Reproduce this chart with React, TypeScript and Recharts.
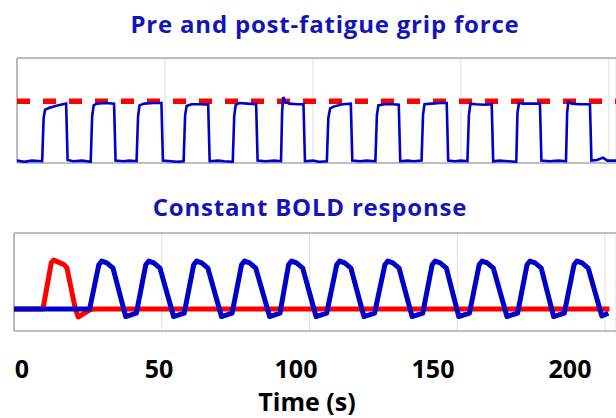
import { LineChart, Line, XAxis, YAxis, CartesianGrid, ReferenceLine } from "recharts";

// grip force trace (normalised to the target force = 1)
const gripTime = [
  0, 2.5, 5, 8.5,
  9.0, 9.5, 11, 13, 15.5, 16.6, 17.1, 19, 22, 24.9,
  25.4, 25.9, 27, 30, 32.8, 33.3, 36, 38, 40.4,
  40.9, 41.4, 43, 46, 48.8, 49.3, 52, 54, 56.3,
  56.8, 57.3, 59, 62, 64.6, 65.1, 68, 70, 72.9,
  73.4, 73.9, 75, 78, 80.8, 81.3, 84, 87, 89.2,
  89.6, 90.0, 90.6, 92, 95, 96.8, 97.3, 100, 102, 104.7,
  105.2, 105.8, 107, 110, 112.8, 113.3, 116, 118, 121.1,
  121.6, 122.1, 124, 127, 129.0, 129.5, 132, 134, 136.7,
  137.2, 137.7, 140, 143, 145.2, 145.7, 148, 150, 152.2,
  152.7, 153.2, 155, 158, 160.4, 160.9, 163, 166, 168.7,
  169.1, 169.6, 171, 174, 176.7, 177.2, 180, 183, 185.5,
  185.9, 186.3, 187.5, 190, 193.6, 194.1, 196, 198, 199.5, 202.4,
];
const gripForce = [
  0.01, -0.01, 0.01, 0.0,
  0.72, 0.86, 0.89, 0.92, 0.95, 0.96, 0.02, 0.0, 0.01, -0.01,
  0.75, 0.93, 0.96, 0.97, 0.96, 0.01, 0.0, 0.01, 0.0,
  0.74, 0.93, 0.96, 0.97, 0.97, 0.01, 0.0, -0.01, 0.0,
  0.76, 0.92, 0.95, 0.95, 0.94, 0.0, 0.01, 0.0, -0.01,
  0.75, 0.94, 0.97, 0.96, 0.95, 0.01, 0.0, 0.01, 0.0,
  0.85, 1.07, 0.99, 0.96, 0.95, 0.95, 0.0, 0.01, -0.01, 0.0,
  0.72, 0.88, 0.91, 0.95, 0.96, 0.01, 0.0, 0.01, 0.0,
  0.76, 0.93, 0.95, 0.95, 0.94, 0.0, 0.01, 0.0, 0.01,
  0.78, 0.95, 0.96, 0.97, 0.97, 0.01, 0.0, 0.01, 0.0,
  0.77, 0.96, 0.95, 0.94, 0.95, 0.0, 0.01, 0.0, -0.01,
  0.8, 0.97, 0.96, 0.96, 0.96, 0.01, 0.0, 0.01, 0.0,
  0.82, 0.99, 0.96, 0.95, 0.95, 0.01, 0.02, 0.06, 0.01, 0.01,
];
const targetForce = 1;

// BOLD response, sustained (blue)
const boldTime = [
  0, 25.6, 28.7, 29.7, 31.4, 33.5, 37.8, 41.4,
  44.6, 45.6, 47.3, 49.4, 54.0, 57.6,
  60.8, 61.8, 63.5, 65.6, 70.2, 73.8,
  77.0, 78.0, 79.7, 81.8, 86.5, 90.0,
  92.9, 93.9, 95.6, 97.7, 102.2, 105.8,
  109.2, 110.2, 111.9, 114.0, 118.4, 122.0,
  125.5, 126.5, 128.2, 130.3, 134.7, 138.3,
  141.5, 142.5, 144.2, 146.3, 150.5, 154.1,
  157.4, 158.4, 160.1, 162.2, 166.8, 170.4,
  173.6, 174.6, 176.3, 178.4, 182.6, 186.2,
  189.5, 190.5, 192.2, 194.3, 198.9, 201.1,
];
const boldSustained = [
  0, 0, 0.94, 1.02, 0.98, 0.87, -0.16, -0.09,
  0.94, 1.02, 0.98, 0.87, -0.16, -0.09,
  0.94, 1.02, 0.98, 0.87, -0.16, -0.09,
  0.94, 1.02, 0.98, 0.87, -0.16, -0.09,
  0.94, 1.02, 0.98, 0.87, -0.16, -0.09,
  0.94, 1.02, 0.98, 0.87, -0.16, -0.09,
  0.94, 1.02, 0.98, 0.87, -0.16, -0.09,
  0.94, 1.02, 0.98, 0.87, -0.16, -0.09,
  0.94, 1.02, 0.98, 0.87, -0.16, -0.09,
  0.94, 1.02, 0.98, 0.87, -0.16, -0.09,
  0.94, 1.02, 0.98, 0.87, -0.15, -0.09,
];

// BOLD response to the first block only (red)
const firstTime = [0, 9.8, 12.6, 13.4, 16.8, 17.9, 20.7, 21.7, 25.7, 27, 201.5];
const firstBlock = [0, 0, 0.98, 1.04, 0.95, 0.88, 0.02, -0.17, -0.02, 0, 0];

const tickValues = [0, 50, 100, 150, 200];

const gripData = gripTime.map((t, i) => ({ t, force: gripForce[i] }));
const boldData = boldTime.map((t, i) => ({ t, bold: boldSustained[i] }));
const firstData = firstTime.map((t, i) => ({ t, bold: firstBlock[i] }));

const BLUE = "#0000c8";
const RED = "#ff0000";
const FRAME = "#a8a8a8";
const GRID = "#e0e0e0";
const TITLE = "#1414b8";
const font = "'Open Sans', 'DejaVu Sans', sans-serif";

const gripX = [0, 202.4];
const gripY = [-0.03, 1.72];
const boldX = [0, 203.7];
const boldY = [-0.468, 1.617];

const titleStyle: React.CSSProperties = {
  position: "absolute",
  transform: "translateX(-50%)",
  whiteSpace: "nowrap",
  fontFamily: font,
  fontWeight: 700,
  fontSize: 24,
  letterSpacing: 0.8,
  lineHeight: "24px",
  color: TITLE,
};

const noTick = () => <g />;

export default function App() {
  return (
    <div style={{ position: "absolute", left: 0, top: 0, width: 616, height: 418, background: "#fff", overflow: "hidden" }}>
      <div style={{ ...titleStyle, left: 325, top: 12 }}>Pre and post-fatigue grip force</div>
      <div style={{ ...titleStyle, left: 310, top: 195 }}>Constant BOLD response</div>

      <div style={{ position: "absolute", left: 0, top: 0 }}>
        <LineChart width={616} height={170} data={gripData} margin={{ top: 58, right: 0, bottom: 7, left: 17 }}>
          <CartesianGrid horizontal={false} stroke={GRID} />
          <XAxis
            dataKey="t"
            type="number"
            domain={gripX}
            ticks={tickValues}
            height={0}
            tick={noTick}
            tickLine={false}
            axisLine={false}
            allowDataOverflow
          />
          <YAxis type="number" domain={gripY} width={0} tick={false} tickLine={false} axisLine={false} allowDataOverflow />
          <ReferenceLine y={gripY[1]} stroke={FRAME} strokeWidth={1.5} />
          <ReferenceLine y={gripY[0]} stroke={FRAME} strokeWidth={1.5} />
          <ReferenceLine x={0} stroke={FRAME} strokeWidth={1.5} />
          <ReferenceLine y={targetForce} stroke={RED} strokeWidth={5.5} strokeDasharray="13 13" />
          <Line
            dataKey="force"
            type="linear"
            stroke={BLUE}
            strokeWidth={2.6}
            dot={false}
            isAnimationActive={false}
          />
        </LineChart>
      </div>

      <div style={{ position: "absolute", left: 0, top: 220 }}>
        <LineChart width={616} height={120} margin={{ top: 13, right: 0, bottom: 9, left: 14 }}>
          <CartesianGrid horizontal={false} stroke={GRID} />
          <XAxis
            dataKey="t"
            type="number"
            domain={boldX}
            ticks={tickValues}
            height={0}
            tick={noTick}
            tickLine={false}
            axisLine={false}
            allowDataOverflow
          />
          <YAxis type="number" domain={boldY} width={0} tick={false} tickLine={false} axisLine={false} allowDataOverflow />
          <ReferenceLine y={boldY[1]} stroke={FRAME} strokeWidth={1.5} />
          <ReferenceLine y={boldY[0]} stroke={FRAME} strokeWidth={1.5} />
          <ReferenceLine x={0} stroke={FRAME} strokeWidth={1.5} />
          <Line
            data={firstData}
            dataKey="bold"
            type="linear"
            stroke={RED}
            strokeWidth={5}
            strokeLinejoin="round"
            dot={false}
            isAnimationActive={false}
          />
          <Line
            data={boldData}
            dataKey="bold"
            type="linear"
            stroke={BLUE}
            strokeWidth={5}
            strokeLinejoin="round"
            dot={false}
            isAnimationActive={false}
          />
        </LineChart>
      </div>

      <div style={{ position: "absolute", left: 0, top: 340 }}>
        <LineChart width={616} height={78} data={tickValues.map((t) => ({ t }))} margin={{ top: 0, right: 46, bottom: 0, left: 22 }}>
          <XAxis
            dataKey="t"
            type="number"
            domain={[0, 200]}
            ticks={tickValues}
            height={72}
            axisLine={false}
            tickLine={false}
            tickSize={0}
            tickMargin={14}
            tick={{ fill: "#000", fontFamily: font, fontWeight: 700, fontSize: 25 }}
            label={{
              value: "Time (s)",
              position: "bottom",
              offset: -25,
              dx: 11,
              fill: "#000",
              fontFamily: font,
              fontWeight: 700,
              fontSize: 25,
            }}
          />
          <YAxis hide domain={[0, 1]} />
        </LineChart>
      </div>
    </div>
  );
}
